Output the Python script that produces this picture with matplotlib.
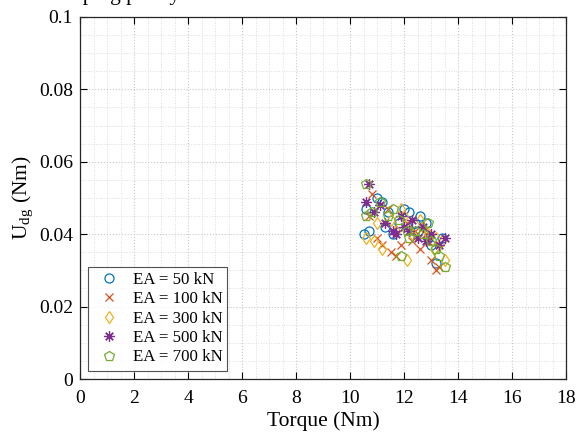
import numpy as np
import matplotlib.pyplot as plt
from matplotlib.ticker import MultipleLocator

plt.rcParams['font.family'] = ['Liberation Serif', 'DejaVu Serif']
plt.rcParams['mathtext.fontset'] = 'stix'

# torque (Nm) and U_dg (Nm) per axial stiffness case
labels = ['EA = 50 kN', 'EA = 100 kN', 'EA = 300 kN', 'EA = 500 kN', 'EA = 700 kN']

x50 = [10.5, 10.7, 10.6, 11.0, 11.2, 11.4, 11.6, 11.8, 12.0, 12.2, 12.4, 12.5,
       12.8, 12.9, 13.0, 13.2, 13.4, 11.3, 12.6]
y50 = [0.040, 0.041, 0.047, 0.050, 0.049, 0.046, 0.040, 0.043, 0.047, 0.046, 0.043, 0.041,
       0.043, 0.039, 0.037, 0.032, 0.039, 0.042, 0.045]

x100 = [10.8, 10.7, 11.0, 11.2, 11.5, 11.7, 11.9, 12.1, 12.3, 12.6, 12.8, 13.0,
        13.2, 13.3, 12.4, 11.4, 12.9]
y100 = [0.051, 0.045, 0.039, 0.037, 0.035, 0.034, 0.037, 0.043, 0.038, 0.036, 0.040, 0.033,
        0.030, 0.031, 0.041, 0.047, 0.038]

x300 = [10.6, 10.9, 11.2, 11.5, 11.9, 12.1, 12.3, 12.6, 12.9, 13.1, 13.4, 13.5,
        11.7, 12.0, 12.7, 13.2, 11.0]
y300 = [0.039, 0.038, 0.036, 0.044, 0.047, 0.033, 0.040, 0.044, 0.040, 0.036, 0.038, 0.033,
        0.041, 0.045, 0.042, 0.039, 0.043]

x500 = [10.7, 10.9, 11.1, 11.3, 11.6, 11.7, 12.0, 12.2, 12.5, 12.8, 13.0, 13.3,
        13.5, 10.6, 12.3, 12.7, 11.9]
y500 = [0.054, 0.046, 0.048, 0.043, 0.041, 0.040, 0.042, 0.041, 0.039, 0.038, 0.040, 0.037,
        0.039, 0.049, 0.044, 0.042, 0.045]

x700 = [10.6, 10.6, 10.8, 11.1, 11.4, 11.8, 11.9, 12.1, 12.4, 12.7, 13.0, 13.3,
        13.5, 12.2, 12.9, 11.6, 13.2]
y700 = [0.054, 0.045, 0.046, 0.049, 0.045, 0.044, 0.034, 0.041, 0.041, 0.040, 0.038, 0.034,
        0.031, 0.039, 0.043, 0.047, 0.036]

xs = [x50, x100, x300, x500, x700]
ys = [y50, y100, y300, y500, y700]
colors = ['#0072BD', '#D95319', '#EDB120', '#7E2F8E', '#77AC30']
markers = ['o', 'x', 'd', (8, 2, 0), 'p']
sizes = [6.5, 5.5, 6.5, 7.5, 7.5]

fig = plt.figure(figsize=(5.81, 4.38), dpi=100)
ax = fig.add_axes([0.1377, 0.1347, 0.8365, 0.8265])

for x, y, c, m, s, lab in zip(xs, ys, colors, markers, sizes, labels):
    ax.plot(x, y, linestyle='none', marker=m, markersize=s, markerfacecolor='none',
            markeredgecolor=c, markeredgewidth=0.9, label=lab)

ax.set_xlim(0, 18)
ax.set_ylim(0, 0.1)
ax.xaxis.set_major_locator(MultipleLocator(2))
ax.xaxis.set_minor_locator(MultipleLocator(0.5))
ax.yaxis.set_major_locator(MultipleLocator(0.02))
ax.yaxis.set_minor_locator(MultipleLocator(0.005))
ax.set_yticks([0, 0.02, 0.04, 0.06, 0.08, 0.1])
ax.set_yticklabels(['0', '0.02', '0.04', '0.06', '0.08', '0.1'])

ax.grid(True, which='major', color='#c8c8c8', linestyle=':', linewidth=0.8)
ax.grid(True, which='minor', color='#dcdcdc', linestyle=':', linewidth=0.7)
ax.set_axisbelow(True)

ax.tick_params(which='both', direction='in', top=True, right=True, labelsize=14)
ax.tick_params(which='major', length=5)
ax.tick_params(axis='x', which='major', pad=8)
ax.tick_params(axis='y', which='major', pad=5)
ax.tick_params(which='minor', length=0)
for sp in ax.spines.values():
    sp.set_linewidth(0.9)
    sp.set_color('#262626')

ax.set_xlabel('Torque (Nm)', fontsize=15.5, labelpad=3)
ax.set_ylabel(r'U$_{\mathregular{dg}}$ (Nm)', fontsize=15.5, labelpad=3)

leg = ax.legend(loc='lower left', fontsize=12.2, frameon=True, fancybox=False,
                edgecolor='#262626', handletextpad=0.5, borderaxespad=0.5,
                labelspacing=0.2, handlelength=1.8, borderpad=0.3)
leg.get_frame().set_linewidth(0.8)

# title sits mostly above the canvas, only descenders show
fig.text(0.31, 0.999, 'Damping policy', ha='right', va='baseline', fontsize=15.5)

fig.savefig('out.png', dpi=100)
